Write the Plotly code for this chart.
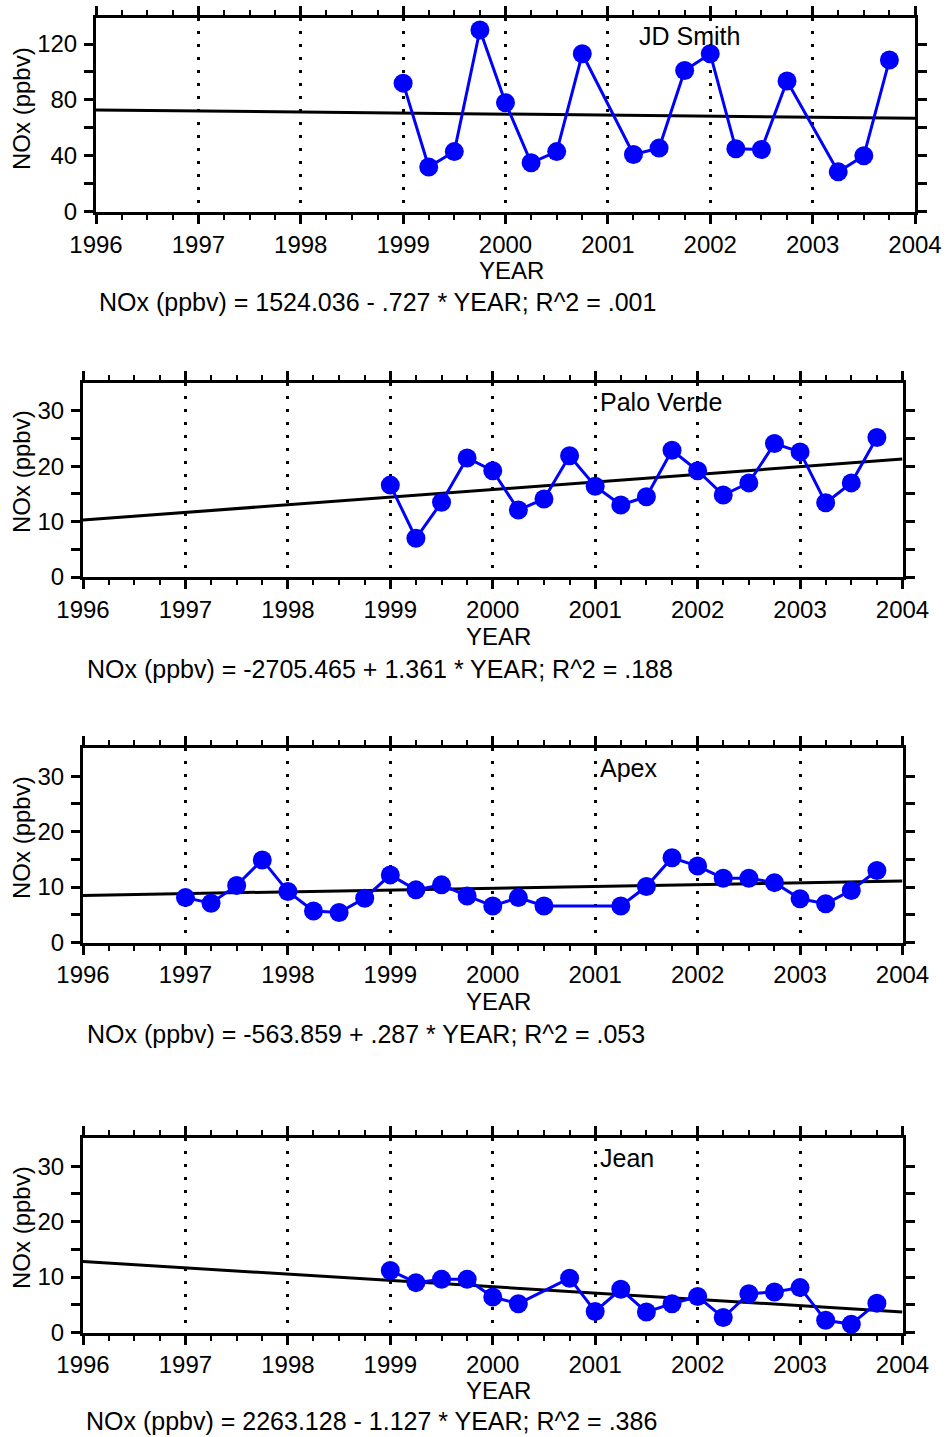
import plotly.graph_objects as go

# ---------------- data ----------------
jd_x = [1999.0, 1999.25, 1999.5, 1999.75, 2000.0, 2000.25, 2000.5, 2000.75,
        2001.25, 2001.5, 2001.75, 2002.0, 2002.25, 2002.5, 2002.75,
        2003.25, 2003.5, 2003.75]
jd_y = [92, 32, 43, 130, 78, 35, 43, 113, 41, 45.5, 101, 113, 45, 44.5, 93.5,
        28.5, 40, 108.5]
jd_trend = [72.8, 66.9]

pv_x = [1999.0, 1999.25, 1999.5, 1999.75, 2000.0, 2000.25, 2000.5, 2000.75,
        2001.0, 2001.25, 2001.5, 2001.75, 2002.0, 2002.25, 2002.5, 2002.75,
        2003.0, 2003.25, 2003.5, 2003.75]
pv_y = [16.6, 7.0, 13.5, 21.5, 19.2, 12.1, 14.1, 21.9, 16.4, 13.0, 14.5, 22.9,
        19.2, 14.8, 17.0, 24.1, 22.6, 13.4, 17.0, 25.2]
pv_trend = [10.3, 21.3]

apex_x = [1997.0, 1997.25, 1997.5, 1997.75, 1998.0, 1998.25, 1998.5, 1998.75,
          1999.0, 1999.25, 1999.5, 1999.75, 2000.0, 2000.25, 2000.5,
          2001.25, 2001.5, 2001.75, 2002.0, 2002.25, 2002.5, 2002.75,
          2003.0, 2003.25, 2003.5, 2003.75]
apex_y = [8.1, 7.1, 10.3, 14.9, 9.2, 5.7, 5.4, 8.0, 12.2, 9.5, 10.4, 8.4, 6.6,
          8.1, 6.6, 6.6, 10.1, 15.3, 13.8, 11.6, 11.6, 10.8, 7.9, 7.0, 9.4, 13.0]
apex_trend = [8.5, 11.1]

jean_x = [1999.0, 1999.25, 1999.5, 1999.75, 2000.0, 2000.25, 2000.75,
          2001.0, 2001.25, 2001.5, 2001.75, 2002.0, 2002.25, 2002.5, 2002.75,
          2003.0, 2003.25, 2003.5, 2003.75]
jean_y = [11.2, 9.0, 9.6, 9.6, 6.4, 5.2, 9.8, 3.8, 7.8, 3.7, 5.2, 6.5, 2.7, 7.0,
          7.3, 8.1, 2.2, 1.5, 5.3]
jean_trend = [12.8, 3.7]

trend_x = [1996, 2004]
year_ticks = [1996, 1997, 1998, 1999, 2000, 2001, 2002, 2003, 2004]

site_names = ["JD Smith", "Palo Verde", "Apex", "Jean"]
equations = [
    "NOx (ppbv) = 1524.036 - .727 * YEAR; R^2 = .001",
    "NOx (ppbv) = -2705.465 + 1.361 * YEAR; R^2 = .188",
    "NOx (ppbv) = -563.859 + .287 * YEAR; R^2 = .053",
    "NOx (ppbv) = 2263.128 - 1.127 * YEAR; R^2 = .386",
]
y_ticks_big = [0, 20, 40, 60, 80, 100, 120]
y_text_big = ["0", "", "40", "", "80", "", "120"]
y_ticks_small = [0, 5, 10, 15, 20, 25, 30]
y_text_small = ["0", "", "10", "", "20", "", "30"]

# ---------------- layout geometry (pixels) ----------------
W, H = 947, 1437
FONT = "Liberation Sans, Arial, sans-serif"
FS = 24
FS_TXT = 25

series = [(jd_x, jd_y, jd_trend), (pv_x, pv_y, pv_trend),
          (apex_x, apex_y, apex_trend), (jean_x, jean_y, jean_trend)]
# left, right, top, bottom (px)
boxes = [(96, 915, 18.3, 211.7), (83, 902.5, 382.7, 577.0),
         (83, 902.5, 748.0, 942.5), (83, 902.5, 1138.0, 1332.5)]
yranges = [[0, 138.4], [0, 35.1], [0, 35.1], [0, 35.1]]
yticks = [(y_ticks_big, y_text_big)] + [(y_ticks_small, y_text_small)] * 3
label_pos = [(637, 36), (598, 402), (598, 768), (598, 1158)]
year_title_y = [270, 636, 1001, 1390]
eq_pos = [(97, 302), (85, 669), (85, 1034), (84, 1421)]
ytitle_y = [109, 472, 838, 1228]


def px(x):
    return x / W


def py(y):
    return 1 - y / H


fig = go.Figure()
annotations = []
layout = dict(
    width=W, height=H,
    margin=dict(l=0, r=0, t=0, b=0, autoexpand=False),
    paper_bgcolor="white", plot_bgcolor="white",
    showlegend=False,
    font=dict(family=FONT, size=FS, color="black"),
)

for i, ((xs, ys, tr), (l, r, t, b)) in enumerate(zip(series, boxes)):
    n = i + 1
    xa = "x" if n == 1 else f"x{n}"
    ya = "y" if n == 1 else f"y{n}"
    fig.add_trace(go.Scatter(x=trend_x, y=tr, mode="lines",
                             line=dict(color="black", width=3),
                             xaxis=xa, yaxis=ya, hoverinfo="skip"))
    fig.add_trace(go.Scatter(x=xs, y=ys, mode="lines+markers",
                             line=dict(color="#0000FF", width=3),
                             marker=dict(color="#0000FF", size=19,
                                         line=dict(width=0)),
                             xaxis=xa, yaxis=ya, cliponaxis=False))
    xkey = "xaxis" if n == 1 else f"xaxis{n}"
    ykey = "yaxis" if n == 1 else f"yaxis{n}"
    layout[xkey] = dict(
        domain=[px(l), px(r)], anchor=ya, range=[1996, 2004],
        automargin=False,
        tickmode="array", tickvals=year_ticks,
        ticktext=[str(v) for v in year_ticks],
        ticks="outside", ticklen=9, tickwidth=3, tickcolor="black",
        showline=True, linewidth=3, linecolor="black", mirror="ticks",
        showgrid=True, gridcolor="black", gridwidth=3, griddash="3px,10px",
        zeroline=False, tickfont=dict(size=FS, family=FONT, color="black"),
        minor=dict(dtick=0.25, tick0=1996, ticks="outside", ticklen=5,
                   tickwidth=2, tickcolor="black", showgrid=False),
        fixedrange=True,
    )
    tv, tt = yticks[i]
    layout[ykey] = dict(
        domain=[py(b), py(t)], anchor=xa, range=yranges[i],
        automargin=False,
        tickmode="array", tickvals=tv, ticktext=tt,
        ticks="outside", ticklen=9, tickwidth=3, tickcolor="black",
        ticklabelstandoff=2,
        showline=True, linewidth=3, linecolor="black", mirror="ticks",
        showgrid=False, zeroline=False,
        tickfont=dict(size=FS, family=FONT, color="black"),
        fixedrange=True,
    )
    # site label
    lx, ly = label_pos[i]
    annotations.append(dict(text=site_names[i], x=px(lx), y=py(ly),
                            xref="paper", yref="paper", xanchor="left",
                            yanchor="middle", showarrow=False,
                            font=dict(size=FS_TXT, family=FONT, color="black")))
    # x title
    annotations.append(dict(text="YEAR", x=px((l + r) / 2 + 6),
                            y=py(year_title_y[i]), xref="paper", yref="paper",
                            xanchor="center", yanchor="middle",
                            showarrow=False,
                            font=dict(size=FS, family=FONT, color="black")))
    # y title
    annotations.append(dict(text="NOx (ppbv)", x=px(21), y=py(ytitle_y[i]),
                            xref="paper", yref="paper", xanchor="center",
                            yanchor="middle", textangle=-90, showarrow=False,
                            font=dict(size=FS, family=FONT, color="black")))
    # equation
    ex, ey = eq_pos[i]
    annotations.append(dict(text=equations[i], x=px(ex), y=py(ey),
                            xref="paper", yref="paper", xanchor="left",
                            yanchor="middle", showarrow=False,
                            font=dict(size=FS_TXT, family=FONT, color="black")))

layout["annotations"] = annotations
fig.update_layout(**layout)
fig.write_html("out.html")
